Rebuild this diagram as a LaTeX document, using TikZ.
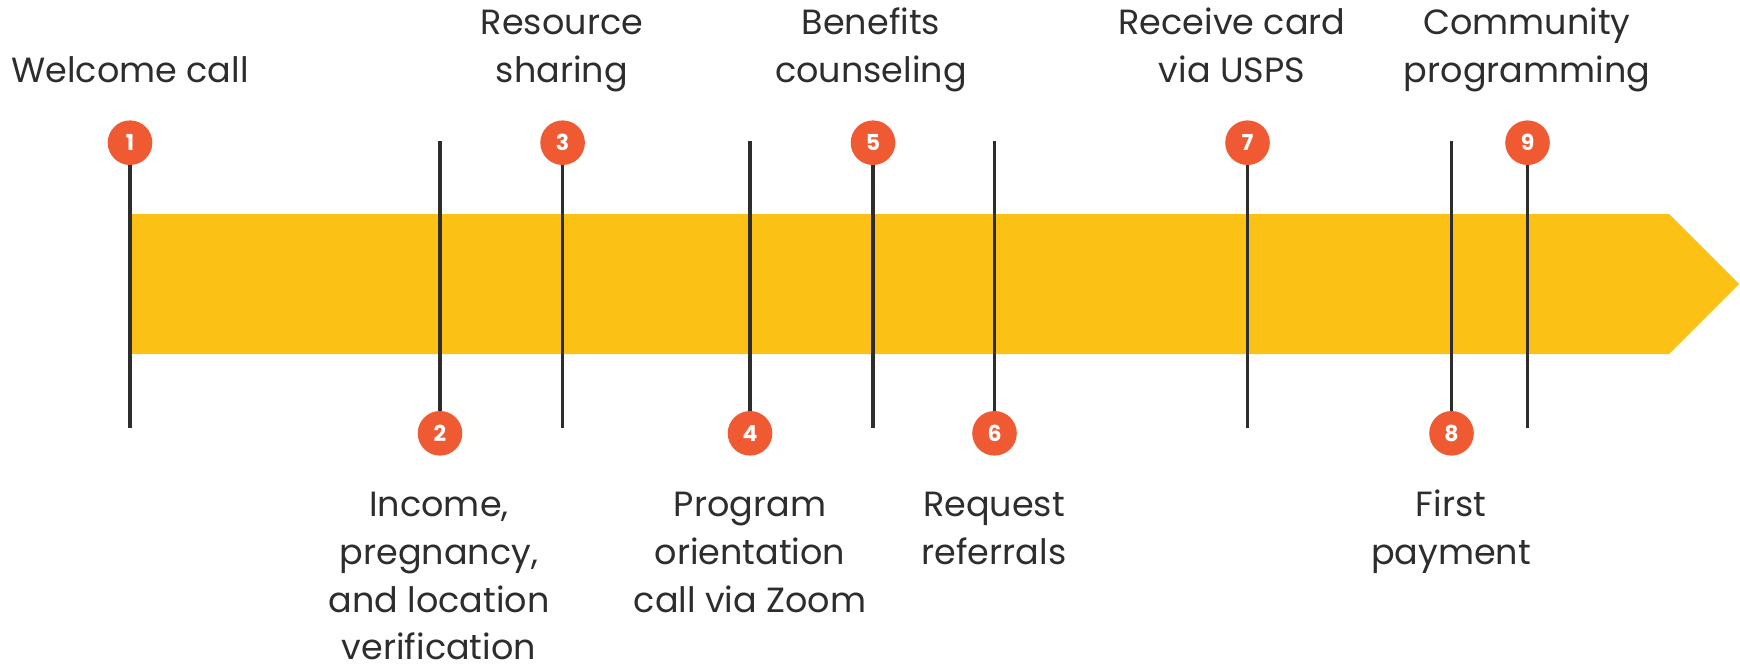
\documentclass[tikz,border=0pt]{standalone}
\usepackage{fontspec}
\setmainfont{Poppins}
\definecolor{band}{HTML}{FBC115}
\definecolor{dot}{HTML}{F05A33}
\definecolor{ink}{HTML}{2D2D2D}
\begin{document}
\begin{tikzpicture}[x=1pt,y=-1pt,
  dotnode/.style={circle,fill=dot,minimum size=44.6pt,inner sep=0pt,text=white,font=\fontsize{22}{22}\selectfont\bfseries},
  stem/.style={draw=ink,line width=3.2pt},
  lbl/.style={align=center,text=ink,inner sep=0pt,anchor=base,font=\fontsize{35}{47.7}\selectfont}]
\useasboundingbox (0,0) rectangle (1740,664);
\fill[band] (130,214) -- (1669,214) -- (1739,284) -- (1669,354) -- (130,354) -- cycle;
% top markers
\foreach \n/\x in {1/130,3/562.6,5/873,7/1247.5,9/1527.5}{
  \node[dotnode] (c\n) at (\x,142.7) {\n};
  \coordinate (e\n) at (\x,428);
  \draw[stem] (c\n) -- (e\n);
}
% bottom markers
\foreach \n/\x in {2/440,4/750,6/994.5,8/1451.5}{
  \node[dotnode] (c\n) at (\x,433.3) {\n};
  \coordinate (e\n) at (\x,141);
  \draw[stem] (e\n) -- (c\n);
}
% anchor=base is the baseline of the last line
\node[lbl] (l1) at (130,82) {Welcome call};
\node[lbl] (l3) at (562,82) {Resource\\sharing};
\node[lbl] (l5) at (871,82) {Benefits\\counseling};
\node[lbl] (l7) at (1232,82) {Receive card\\via USPS};
\node[lbl] (l9) at (1527,82) {Community\\programming};
\node[lbl] (l2) at (439,659.8) {Income,\\pregnancy,\\and location\\verification};
\node[lbl] (l4) at (750,612.1) {Program\\orientation\\call via Zoom};
\node[lbl] (l6) at (994,564.4) {Request\\referrals};
\node[lbl] (l8) at (1451,564.4) {First\\payment};
\end{tikzpicture}
\end{document}
